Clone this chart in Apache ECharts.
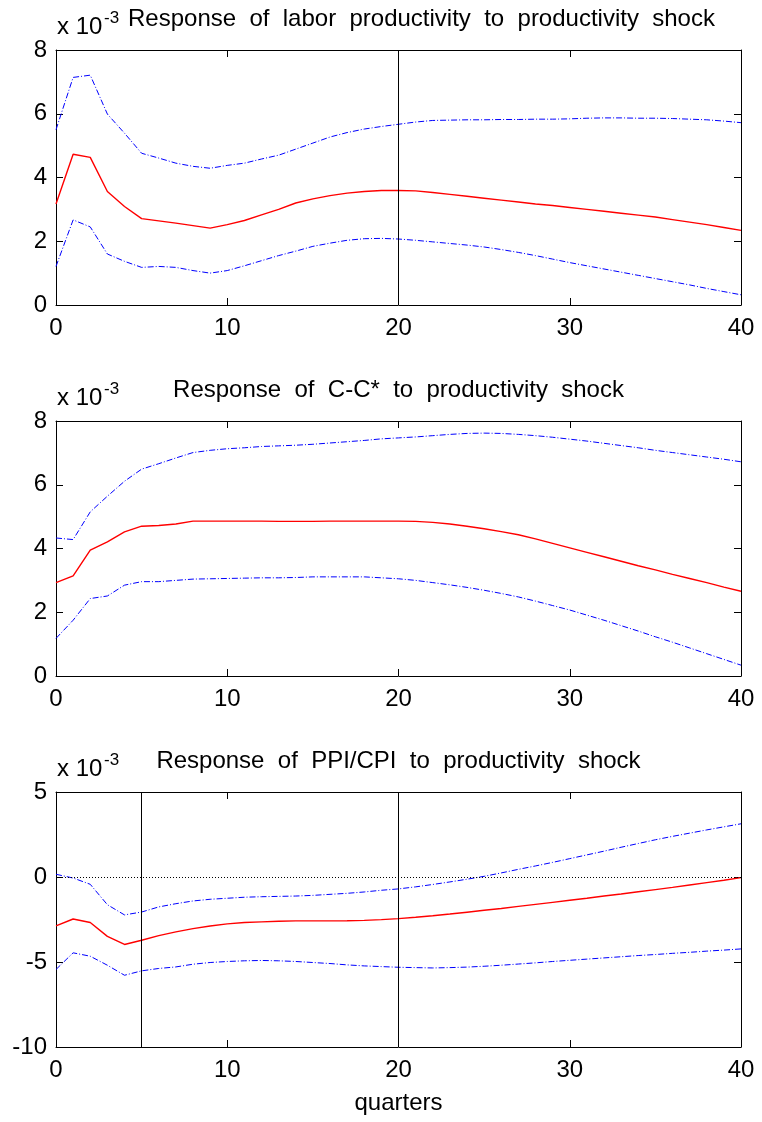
<!DOCTYPE html>
<html>
<head>
<meta charset="utf-8">
<script src="https://cdn.jsdelivr.net/npm/echarts@6/dist/echarts.min.js"></script>
<style>
html,body{margin:0;padding:0;background:#fff;}
#c{width:762px;height:1122px;}
</style>
</head>
<body>
<div id="c"></div>
<script>
// ---- data (values in units of 10^-3) ----
var quarters = [0,1,2,3,4,5,6,7,8,9,10,11,12,13,14,15,16,17,18,19,20,21,22,23,24,25,26,27,28,29,30,31,32,33,34,35,36,37,38,39,40];

var titles = [
  'Response  of  labor  productivity  to  productivity  shock',
  'Response  of  C-C*  to  productivity  shock',
  'Response  of  PPI/CPI  to  productivity  shock'
];
var xAxisName = 'quarters';
var exponentBase = 'x 10';
var exponentPower = '-3';

// Panel 1: labor productivity
var lp_mid = [3.17,4.73,4.63,3.56,3.09,2.71,2.64,2.57,2.49,2.41,2.52,2.65,2.83,3.00,3.20,3.33,3.43,3.51,3.56,3.59,3.59,3.58,3.53,3.47,3.41,3.35,3.29,3.23,3.17,3.12,3.06,3.00,2.94,2.88,2.82,2.76,2.68,2.60,2.52,2.43,2.34];
var lp_up  = [5.50,7.14,7.21,5.99,5.39,4.76,4.61,4.45,4.35,4.29,4.38,4.45,4.58,4.70,4.89,5.08,5.27,5.41,5.52,5.60,5.67,5.74,5.79,5.80,5.81,5.81,5.82,5.82,5.83,5.83,5.84,5.86,5.87,5.87,5.86,5.86,5.85,5.83,5.81,5.77,5.72];
var lp_low = [1.21,2.67,2.45,1.60,1.37,1.18,1.21,1.18,1.08,1.00,1.08,1.23,1.39,1.55,1.69,1.84,1.94,2.03,2.08,2.09,2.07,2.03,1.98,1.93,1.88,1.82,1.74,1.65,1.55,1.44,1.33,1.23,1.13,1.03,0.93,0.83,0.73,0.63,0.52,0.42,0.32];

// Panel 2: C-C*
var cc_mid = [2.93,3.14,3.95,4.21,4.52,4.70,4.72,4.77,4.86,4.86,4.86,4.86,4.86,4.85,4.85,4.85,4.86,4.86,4.86,4.86,4.86,4.85,4.82,4.77,4.70,4.62,4.53,4.43,4.30,4.16,4.02,3.88,3.74,3.60,3.46,3.33,3.19,3.06,2.93,2.79,2.66];
var cc_up  = [4.33,4.28,5.15,5.64,6.11,6.49,6.66,6.84,7.01,7.08,7.13,7.16,7.20,7.22,7.24,7.27,7.31,7.35,7.39,7.44,7.47,7.50,7.54,7.58,7.61,7.62,7.61,7.58,7.54,7.49,7.43,7.37,7.30,7.23,7.16,7.08,7.01,6.94,6.87,6.80,6.72];
var cc_low = [1.18,1.75,2.43,2.51,2.85,2.96,2.96,3.00,3.04,3.05,3.06,3.07,3.08,3.08,3.09,3.11,3.11,3.11,3.11,3.08,3.05,3.00,2.93,2.86,2.78,2.69,2.59,2.48,2.35,2.21,2.07,1.91,1.75,1.58,1.41,1.23,1.06,0.88,0.70,0.52,0.34];

// Panel 3: PPI/CPI
var pc_mid = [-2.88,-2.47,-2.68,-3.49,-3.97,-3.72,-3.45,-3.23,-3.04,-2.88,-2.76,-2.68,-2.64,-2.60,-2.58,-2.58,-2.58,-2.57,-2.55,-2.51,-2.45,-2.37,-2.28,-2.18,-2.07,-1.96,-1.85,-1.73,-1.61,-1.49,-1.37,-1.25,-1.12,-1.00,-0.87,-0.74,-0.61,-0.47,-0.33,-0.19,-0.04];
var pc_up  = [0.16,-0.06,-0.43,-1.63,-2.23,-2.06,-1.76,-1.57,-1.41,-1.31,-1.25,-1.19,-1.16,-1.14,-1.12,-1.08,-1.02,-0.96,-0.88,-0.78,-0.70,-0.58,-0.44,-0.29,-0.13,0.04,0.24,0.45,0.65,0.86,1.08,1.30,1.52,1.75,1.97,2.19,2.39,2.58,2.77,2.95,3.13];
var pc_low = [-5.44,-4.46,-4.66,-5.19,-5.78,-5.52,-5.38,-5.29,-5.13,-5.03,-4.97,-4.93,-4.91,-4.93,-4.97,-5.03,-5.09,-5.17,-5.23,-5.27,-5.31,-5.33,-5.35,-5.33,-5.30,-5.25,-5.19,-5.12,-5.05,-4.97,-4.90,-4.83,-4.76,-4.69,-4.62,-4.56,-4.49,-4.43,-4.36,-4.30,-4.23];

// axis ranges & reference lines
var yRanges = [[0,8,2],[0,8,2],[-10,5,5]];
var vLines = [[20],[],[5,20]];
var zeroLines = [[],[],[0]];

// ---- layout ----
var FONT = '"Liberation Sans", Arial, Helvetica, sans-serif';
var FS = 24;
var gridTops = [50, 421, 792];
var GRID_LEFT = 56, GRID_W = 685, GRID_H = 255;

var panels = [
  [lp_mid, lp_up, lp_low],
  [cc_mid, cc_up, cc_low],
  [pc_mid, pc_up, pc_low]
];

function pairs(v){ return quarters.map(function(q,i){ return [q, v[i]]; }); }

var grids = [], xAxes = [], yAxes = [], series = [], graphics = [];
var titleLeft = [128, null, null];

panels.forEach(function(p, gi){
  grids.push({left: GRID_LEFT, top: gridTops[gi], width: GRID_W, height: GRID_H, containLabel:false});
  var axLine = {show:true, onZero:false, lineStyle:{color:'#000', width:1}};
  var tick = {show:true, inside:true, length:7, lineStyle:{color:'#000', width:1}};
  xAxes.push({type:'value', gridIndex:gi, position:'bottom', min:0, max:40, interval:10,
    axisLine:axLine, axisTick:tick,
    axisLabel:{show:true, fontSize:FS, color:'#000', fontFamily:FONT, margin:11},
    splitLine:{show:false}});
  xAxes.push({type:'value', gridIndex:gi, position:'top', min:0, max:40, interval:10,
    axisLine:axLine, axisTick:tick, axisLabel:{show:false}, splitLine:{show:false}});
  var yr = yRanges[gi];
  yAxes.push({type:'value', gridIndex:gi, position:'left', min:yr[0], max:yr[1], interval:yr[2],
    axisLine:axLine, axisTick:tick,
    axisLabel:{show:true, fontSize:FS, color:'#000', fontFamily:FONT, margin:9},
    splitLine:{show:false}});
  yAxes.push({type:'value', gridIndex:gi, position:'right', min:yr[0], max:yr[1], interval:yr[2],
    axisLine:axLine, axisTick:tick, axisLabel:{show:false}, splitLine:{show:false}});

  var mlData = [];
  vLines[gi].forEach(function(v){ mlData.push({xAxis:v, lineStyle:{color:'#000', type:'solid', width:1}}); });
  zeroLines[gi].forEach(function(v){ mlData.push({yAxis:v, lineStyle:{color:'#000', type:[1,2], width:1}}); });

  series.push({type:'line', xAxisIndex:gi*2, yAxisIndex:gi*2, data:pairs(p[1]),
    showSymbol:false, symbol:'none', lineStyle:{color:'#0000ff', width:1, type:[6,2,1,2]}, z:3});
  series.push({type:'line', xAxisIndex:gi*2, yAxisIndex:gi*2, data:pairs(p[2]),
    showSymbol:false, symbol:'none', lineStyle:{color:'#0000ff', width:1, type:[6,2,1,2]}, z:3});
  series.push({type:'line', xAxisIndex:gi*2, yAxisIndex:gi*2, data:pairs(p[0]),
    showSymbol:false, symbol:'none', lineStyle:{color:'#ff0000', width:1.4, type:'solid'}, z:4,
    markLine: mlData.length ? {symbol:'none', silent:true, label:{show:false}, animation:false, data:mlData} : undefined});

  var top = gridTops[gi];
  graphics.push({type:'text', x: titleLeft[gi] !== null ? titleLeft[gi] : GRID_LEFT + GRID_W/2, y: top - 31,
    style:{text: titles[gi], font: FS + 'px ' + FONT, fill:'#000',
      align: titleLeft[gi] !== null ? 'left' : 'center', verticalAlign:'middle'}});
  graphics.push({type:'text', x: 57, y: top - 23,
    style:{text: exponentBase, font: FS + 'px ' + FONT, fill:'#000', align:'left', verticalAlign:'middle'}});
  graphics.push({type:'text', x: 104, y: top - 32,
    style:{text: exponentPower, font:'17px ' + FONT, fill:'#000', align:'left', verticalAlign:'middle'}});
});

graphics.push({type:'text', x: GRID_LEFT + GRID_W/2, y: 1103,
  style:{text: xAxisName, font: FS + 'px ' + FONT, fill:'#000', align:'center', verticalAlign:'middle'}});

var chart = echarts.init(document.getElementById('c'), null, {renderer:'canvas'});
chart.setOption({
  animation:false,
  backgroundColor:'#fff',
  grid:grids, xAxis:xAxes, yAxis:yAxes, series:series, graphic:graphics
});
</script>
</body>
</html>
